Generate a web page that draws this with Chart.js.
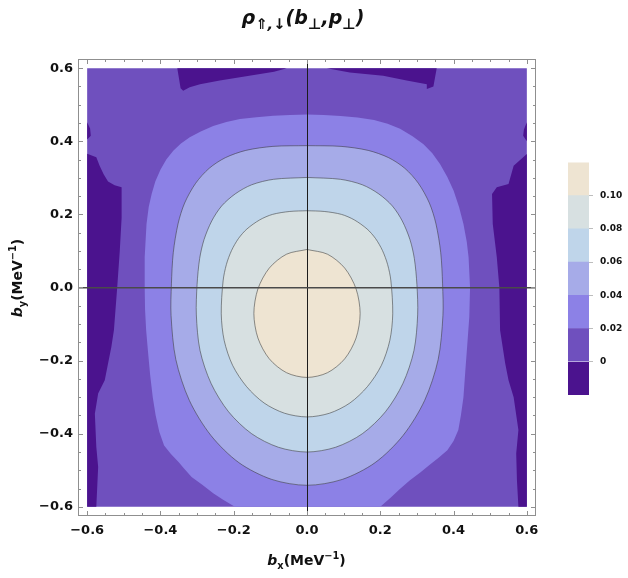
<!DOCTYPE html>
<html>
<head>
<meta charset="utf-8">
<script src="https://cdn.jsdelivr.net/npm/chart.js@4/dist/chart.umd.min.js"></script>
<style>
  body { margin: 0; background: #fff; }
  #wrap { position: relative; width: 628px; height: 578px; font-family: 'DejaVu Sans', sans-serif; color: #111; }
  #main { position: absolute; left: 0; top: 0; }
  #bar { position: absolute; left: 560px; top: 150px; }
  .lab { position: absolute; font-weight: bold; white-space: nowrap; text-align: center; }
  .lab sub, .lab sup { font-size: 70%; line-height: 0; }
  #title { left: 0; top: 5px; width: 606px; font-size: 19px; line-height: 24px; font-style: italic; }
  #title sub { font-size: 78%; }
  #xlab { left: 0; top: 550px; width: 613px; font-size: 14px; line-height: 20px; }
  #ylab { left: -83px; top: 268px; width: 200px; font-size: 14px; line-height: 20px; transform: rotate(-90deg); }
</style>
</head>
<body>
<div id="wrap">
  <canvas id="main" width="628" height="578"></canvas>
  <canvas id="bar" width="68" height="260"></canvas>
  <div class="lab" id="title">ρ<sub>⇑,↓</sub>(b<sub>⊥</sub>,p<sub>⊥</sub>)</div>
  <div class="lab" id="xlab"><i>b</i><sub>x</sub>(MeV<sup>−1</sup>)</div>
  <div class="lab" id="ylab"><i>b</i><sub>y</sub>(MeV<sup>−1</sup>)</div>
</div>
<script>
// contour levels (colour bar) and the fill colour of each band, lowest first
const levels = [0, 0.02, 0.04, 0.06, 0.08, 0.10];
const bandColors = ['#4b138e', '#6f50be', '#8c81e6', '#a6abe8', '#bfd5ea', '#d7e0e1', '#eee4d2'];
const axisTicks = [-0.6, -0.4, -0.2, 0, 0.2, 0.4, 0.6];

// plotted region (b_x, b_y in MeV^-1)
const region = [[-0.6, -0.6], [0.6, -0.6], [0.6, 0.6], [-0.6, 0.6], [-0.6, -0.6]];

// areas below 0
const darkLeft = [[-0.6, 0.366], [-0.575, 0.356], [-0.566, 0.333], [-0.555, 0.31], [-0.543, 0.29], [-0.525, 0.28],
  [-0.506, 0.274], [-0.506, 0.19], [-0.511, 0.1], [-0.518, 0], [-0.527, -0.117], [-0.534, -0.163], [-0.543, -0.208],
  [-0.552, -0.254], [-0.57, -0.29], [-0.579, -0.345], [-0.575, -0.436], [-0.57, -0.491], [-0.575, -0.6],
  [-0.6, -0.6], [-0.6, 0.366]];
const darkRight = [[0.6, 0.365], [0.564, 0.333], [0.55, 0.283], [0.518, 0.274], [0.505, 0.256], [0.507, 0.174],
  [0.518, 0.083], [0.525, 0], [0.527, -0.117], [0.541, -0.208], [0.55, -0.254], [0.564, -0.3], [0.577, -0.39],
  [0.571, -0.454], [0.573, -0.527], [0.577, -0.6], [0.6, -0.6], [0.6, 0.365]];
const darkLeftBump = [[-0.6, 0.452], [-0.592, 0.435], [-0.59, 0.415], [-0.6, 0.405], [-0.6, 0.452]];
const darkRightBump = [[0.6, 0.452], [0.592, 0.432], [0.59, 0.415], [0.6, 0.4], [0.6, 0.452]];
const darkTopLeft = [[-0.354, 0.6], [-0.055, 0.6], [-0.09, 0.59], [-0.128, 0.584], [-0.183, 0.575], [-0.238, 0.566],
  [-0.292, 0.556], [-0.32, 0.548], [-0.338, 0.538], [-0.345, 0.545], [-0.354, 0.6]];
const darkTopRight = [[0.054, 0.6], [0.354, 0.6], [0.345, 0.55], [0.327, 0.543], [0.327, 0.556], [0.272, 0.566],
  [0.208, 0.579], [0.117, 0.588], [0.054, 0.6]];

// contour 0.02 (open at the bottom edge)
const level02 = [[-0.197, -0.6], [-0.23, -0.58], [-0.256, -0.563], [-0.285, -0.54], [-0.315, -0.518], [-0.335, -0.496],
  [-0.35, -0.478], [-0.372, -0.455], [-0.39, -0.432], [-0.403, -0.395], [-0.413, -0.35], [-0.421, -0.3],
  [-0.428, -0.24], [-0.434, -0.175], [-0.439, -0.117], [-0.442, -0.06], [-0.443, 0], [-0.443, 0.083],
  [-0.438, 0.174], [-0.432, 0.22], [-0.424, 0.256], [-0.414, 0.29], [-0.4, 0.322], [-0.384, 0.35],
  [-0.365, 0.374], [-0.344, 0.394], [-0.32, 0.411], [-0.29, 0.427], [-0.256, 0.442], [-0.22, 0.453],
  [-0.183, 0.461], [-0.138, 0.466], [-0.092, 0.47], [-0.046, 0.472], [0, 0.473], [0.046, 0.472], [0.092, 0.469],
  [0.138, 0.465], [0.183, 0.458], [0.22, 0.448], [0.254, 0.434], [0.288, 0.414], [0.318, 0.392], [0.342, 0.367],
  [0.363, 0.338], [0.383, 0.302], [0.4, 0.265], [0.415, 0.22], [0.427, 0.174], [0.436, 0.125], [0.441, 0.083],
  [0.445, 0], [0.443, -0.08], [0.437, -0.163], [0.432, -0.23], [0.427, -0.3], [0.42, -0.35], [0.413, -0.39],
  [0.4, -0.42], [0.383, -0.445], [0.36, -0.465], [0.335, -0.485], [0.31, -0.505], [0.281, -0.527], [0.255, -0.55],
  [0.228, -0.575], [0.2, -0.6], [-0.197, -0.6]];

// closed contours 0.04 .. 0.10, starting at the top
const level04 = [[0, 0.388], [0.093, 0.386], [0.167, 0.375], [0.223, 0.355], [0.267, 0.326], [0.304, 0.285],
  [0.334, 0.231], [0.352, 0.174], [0.365, 0.095], [0.37, 0.01], [0.371, -0.077], [0.358, -0.197], [0.321, -0.309],
  [0.262, -0.405], [0.186, -0.479], [0.096, -0.525], [0, -0.541], [-0.096, -0.525], [-0.186, -0.479],
  [-0.262, -0.405], [-0.321, -0.309], [-0.358, -0.197], [-0.371, -0.077], [-0.37, 0.01], [-0.365, 0.095],
  [-0.352, 0.174], [-0.334, 0.231], [-0.304, 0.285], [-0.267, 0.326], [-0.223, 0.355], [-0.167, 0.375],
  [-0.093, 0.386], [0, 0.388]];
const level06 = [[0, 0.301], [0.091, 0.296], [0.151, 0.281], [0.196, 0.256], [0.233, 0.223], [0.26, 0.182],
  [0.281, 0.131], [0.293, 0.079], [0.3, 0.008], [0.302, -0.075], [0.292, -0.172], [0.262, -0.262], [0.214, -0.34],
  [0.151, -0.4], [0.078, -0.437], [0, -0.45], [-0.078, -0.437], [-0.151, -0.4], [-0.214, -0.34], [-0.262, -0.262],
  [-0.292, -0.172], [-0.302, -0.075], [-0.3, 0.008], [-0.293, 0.079], [-0.281, 0.131], [-0.26, 0.182],
  [-0.233, 0.223], [-0.196, 0.256], [-0.151, 0.281], [-0.091, 0.296], [0, 0.301]];
const level08 = [[0, 0.21], [0.047, 0.208], [0.094, 0.2], [0.129, 0.185], [0.164, 0.16], [0.187, 0.134],
  [0.206, 0.101], [0.22, 0.063], [0.229, 0.018], [0.234, -0.072], [0.226, -0.145], [0.203, -0.213], [0.165, -0.271],
  [0.117, -0.316], [0.061, -0.344], [0, -0.354], [-0.061, -0.344], [-0.117, -0.316], [-0.165, -0.271],
  [-0.203, -0.213], [-0.226, -0.145], [-0.234, -0.072], [-0.229, 0.018], [-0.22, 0.063], [-0.206, 0.101],
  [-0.187, 0.134], [-0.164, 0.16], [-0.129, 0.185], [-0.094, 0.2], [-0.047, 0.208], [0, 0.21]];
const level10 = [[0, 0.104], [0.056, 0.091], [0.103, 0.053], [0.134, -0.004], [0.145, -0.071], [0.134, -0.138],
  [0.103, -0.195], [0.056, -0.233], [0, -0.246], [-0.056, -0.233], [-0.103, -0.195], [-0.134, -0.138],
  [-0.145, -0.071], [-0.134, -0.004], [-0.103, 0.053], [-0.056, 0.091], [0, 0.104]];

const FONT = "'DejaVu Sans', sans-serif";

const shape = (pts, color, extra) => Object.assign({
  data: pts.map(([x, y]) => ({x, y})),
  backgroundColor: color,
  borderColor: 'rgba(0,0,0,0)',
  borderWidth: 0,
  fill: 'shape',
  pointRadius: 0,
  tension: 0
}, extra || {});
const contourLine = {borderColor: 'rgba(60,60,60,0.7)', borderWidth: 0.8, tension: 0.3};

// first dataset ends up on top
const datasets = [
  shape(level10, bandColors[6], contourLine),
  shape(level08, bandColors[5], contourLine),
  shape(level06, bandColors[4], contourLine),
  shape(level04, bandColors[3], contourLine),
  shape(level02, bandColors[2]),
  shape(darkTopLeft, bandColors[0]),
  shape(darkTopRight, bandColors[0]),
  shape(darkLeftBump, bandColors[0]),
  shape(darkRightBump, bandColors[0]),
  shape(darkLeft, bandColors[0]),
  shape(darkRight, bandColors[0]),
  shape(region, bandColors[1])
];

// Mathematica-like frame with inward ticks on all four sides
const frameTicks = {
  id: 'frameTicks',
  afterDraw(chart) {
    const {ctx, chartArea: a, scales: {x, y}} = chart;
    ctx.save();
    ctx.strokeStyle = '#8f8f8f';
    ctx.lineWidth = 1;
    ctx.strokeRect(Math.round(a.left) + 0.5, Math.round(a.top) + 0.5,
      Math.round(a.right - a.left) - 1, Math.round(a.bottom - a.top) - 1);
    ctx.beginPath();
    for (let i = 0; i <= 24; i++) {
      const v = -0.6 + i * 0.05;
      const len = i % 4 === 0 ? 5 : 3;
      const px = Math.round(x.getPixelForValue(v)) + 0.5;
      const py = Math.round(y.getPixelForValue(v)) + 0.5;
      ctx.moveTo(px, a.top); ctx.lineTo(px, a.top + len);
      ctx.moveTo(px, a.bottom); ctx.lineTo(px, a.bottom - len);
      ctx.moveTo(a.left, py); ctx.lineTo(a.left + len, py);
      ctx.moveTo(a.right, py); ctx.lineTo(a.right - len, py);
    }
    ctx.stroke();
    ctx.restore();
  }
};

const tickLabel = v => (v < 0 ? '−' : '') + Math.abs(v).toFixed(1);
const axisFont = {family: FONT, weight: 'bold', size: 13};

new Chart(document.getElementById('main'), {
  type: 'line',
  data: {datasets},
  options: {
    responsive: false,
    animation: false,
    events: [],
    layout: {padding: {top: 59, right: 92, bottom: 0, left: 0}},
    plugins: {legend: {display: false}, tooltip: {enabled: false}},
    scales: {
      x: {
        type: 'linear', min: -0.625, max: 0.625, z: 1,
        afterBuildTicks: s => { s.ticks = axisTicks.map(v => ({value: v})); },
        afterFit: s => { s.height = 62; },
        border: {display: false},
        grid: {z: 1, drawTicks: false, lineWidth: 1,
          color: c => (c.tick && c.tick.value === 0 ? '#1c1c1c' : 'rgba(0,0,0,0)')},
        ticks: {padding: 7, color: '#111', font: axisFont, maxRotation: 0, callback: tickLabel}
      },
      y: {
        type: 'linear', min: -0.625, max: 0.625, z: 1,
        afterBuildTicks: s => { s.ticks = axisTicks.map(v => ({value: v})); },
        afterFit: s => { s.width = 78; },
        border: {display: false},
        grid: {z: 1, drawTicks: false, lineWidth: 1.5,
          color: c => (c.tick && c.tick.value === 0 ? '#4a4a4a' : 'rgba(0,0,0,0)')},
        ticks: {padding: 5, color: '#111', font: axisFont, callback: tickLabel}
      }
    }
  },
  plugins: [frameTicks]
});

// colour bar: one floating bar per band
const bandEdges = [-0.02].concat(levels, [0.12]);
new Chart(document.getElementById('bar'), {
  type: 'bar',
  data: {
    labels: [''],
    datasets: bandColors.map((c, i) => ({
      data: [[bandEdges[i], bandEdges[i + 1]]],
      backgroundColor: c,
      borderWidth: 0,
      barPercentage: 1,
      categoryPercentage: 1,
      grouped: false
    }))
  },
  options: {
    responsive: false,
    animation: false,
    events: [],
    layout: {padding: {left: 8, top: 12, bottom: 15, right: 0}},
    plugins: {legend: {display: false}, tooltip: {enabled: false}},
    scales: {
      x: {display: false},
      y: {
        position: 'right', min: -0.02, max: 0.12,
        afterBuildTicks: s => { s.ticks = levels.map(v => ({value: v})); },
        afterFit: s => { s.width = 39; },
        border: {display: false},
        grid: {drawOnChartArea: false, tickLength: 4, tickColor: '#bdbdbd'},
        ticks: {padding: 7, color: '#111', font: {family: FONT, weight: 'bold', size: 9},
          callback: v => (v === 0 ? '0' : v.toFixed(2))}
      }
    }
  }
});
</script>
</body>
</html>
